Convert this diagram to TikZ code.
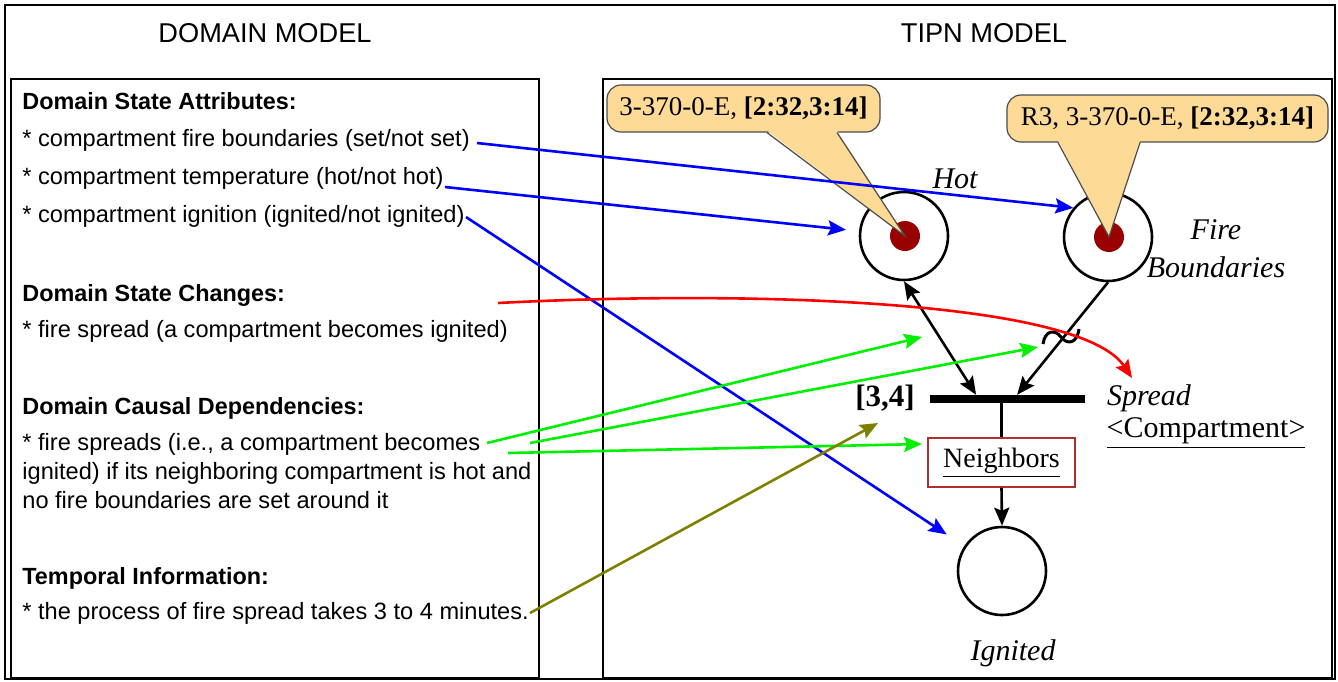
\documentclass[tikz,border=0pt]{standalone}
\usepackage{fontspec}
\setmainfont{Liberation Serif}
\newfontfamily\arialfont{Liberation Sans}
\usepackage{xcolor}
\usepackage{tikz}
\usetikzlibrary{arrows.meta}
\definecolor{notefill}{RGB}{253,218,150}
\definecolor{tokenred}{RGB}{153,0,0}
\definecolor{boxred}{RGB}{176,48,48}
\definecolor{olivearr}{RGB}{128,128,0}
\definecolor{greenarr}{RGB}{0,240,0}

\tikzset{
  >={Stealth[length=9pt,width=7.5pt,inset=1.5pt]},
  frame/.style={draw,line width=0.9pt},
  headtxt/.style={font=\arialfont\fontsize{13.6}{16}\selectfont},
  sectxt/.style={anchor=west,inner sep=0pt,text height=8.5pt,text depth=2.5pt,font=\arialfont\bfseries\fontsize{11.7}{14}\selectfont},
  itemtxt/.style={anchor=west,inner sep=0pt,text height=8.5pt,text depth=2.5pt,font=\arialfont\fontsize{11.8}{14}\selectfont},
  place/.style={circle,draw,line width=1.3pt,minimum size=44pt,inner sep=0pt},
  token/.style={circle,fill=tokenred,minimum size=15pt,inner sep=0pt},
  note/.style={draw=black!70,fill=notefill,line width=0.6pt,rounded corners=7pt,minimum height=23.5pt,inner sep=0pt,font=\fontsize{13.5}{16}\selectfont},
  notepen/.style={draw=black!70,line width=0.6pt},
  plabel/.style={font=\itshape\fontsize{15}{19}\selectfont},
  arc/.style={draw,line width=1.3pt},
  link/.style={line width=1.3pt,->},
}

\begin{document}
\begin{tikzpicture}[x=0.5pt,y=-0.5pt]
  \useasboundingbox (0,0) rectangle (1338,681);
  \draw[line width=1.2pt] (5,5) rectangle (1335,679);
  \draw[frame] (11,79) rectangle (539,678);
  \draw[frame] (603,79) rectangle (1332,678);
  \node[headtxt] (domain) at (265,33) {DOMAIN MODEL};
  \node[headtxt] (tipn) at (984,33) {TIPN MODEL};

  % domain model
  \node[sectxt] (attrs) at (22,103) {Domain State Attributes:};
  \node[itemtxt] (bound) at (22,140) {* compartment fire boundaries (set/not set)};
  \node[itemtxt] (temp) at (22,178) {* compartment temperature (hot/not hot)};
  \node[itemtxt] (ignit) at (22,216) {* compartment ignition (ignited/not ignited)};
  \node[sectxt] (changes) at (22,295) {Domain State Changes:};
  \node[itemtxt] (firespread) at (22,331) {* fire spread (a compartment becomes ignited)};
  \node[sectxt] (causal) at (22,408) {Domain Causal Dependencies:};
  \node[itemtxt] (cause1) at (22,444) {* fire spreads (i.e., a compartment becomes};
  \node[itemtxt] (cause2) at (22,473) {ignited) if its neighboring compartment is hot and};
  \node[itemtxt] (cause3) at (22,502) {no fire boundaries are set around it};
  \node[sectxt] (temporal) at (22,578) {Temporal Information:};
  \node[itemtxt] (minutes) at (22,613) {* the process of fire spread takes 3 to 4 minutes.};

  % TIPN model
  \node[place] (hot) at (904,236) {};
  \node[token] (hotdot) at (905,236) {};
  \node[place] (fire) at (1108,237) {};
  \node[token] (firedot) at (1109,237) {};
  \node[place] (ignited) at (1002,571) {};
  \node[fill,minimum width=77.5pt,minimum height=3.8pt,inner sep=0pt] (spread) at (1007,399) {};
  \node[draw=boxred,line width=0.8pt,minimum width=73.5pt,minimum height=24.5pt,font=\fontsize{14}{16}\selectfont] (nbr) at (1001.5,462.5) {\underline{Neighbors}};

  \node[plabel] (hotlbl) at (955,179) {Hot};
  \node[plabel,align=center] (firelbl) at (1216,249) {Fire\\Boundaries};
  \node[plabel] (ignitedlbl) at (1013,653) {Ignited};
  \node[plabel] (spreadlbl) at (1149,398) {Spread};
  \node[font=\fontsize{15}{19}\selectfont] (complbl) at (1206,433) {\underline{<Compartment>}};
  \node[font=\bfseries\fontsize{15.5}{19}\selectfont] (interval) at (885,398) {[3,4]};

  \path[arc]
    (hot.south) edge[<->] ([xshift=23.5pt]spread.north west)
    (fire.south) edge[->] ([xshift=44pt]spread.north west)
    (nbr.north |- spread.south) edge (nbr.north)
    (nbr.south) edge[->] (ignited.north);
  \draw[line width=1.5pt] (1043,344) .. controls (1045,330) and (1055,329) .. (1061,337)
    .. controls (1067,345) and (1077,344) .. (1079,329);

  \node[note,minimum width=136.5pt] (hotnote) at (743.5,108.5) {3-370-0-E, \textbf{[2:32,3:14]}};
  \fill[notefill] ([xshift=11.75pt,yshift=1pt]hotnote.south) -- (hotdot.center) -- ([xshift=46.75pt,yshift=1pt]hotnote.south) -- cycle;
  \draw[notepen] ([xshift=11.75pt]hotnote.south) -- (hotdot.center) -- ([xshift=46.75pt]hotnote.south);
  \node[note,minimum width=160.5pt] (firenote) at (1167.5,118.5) {R3, 3-370-0-E, \textbf{[2:32,3:14]}};
  \fill[notefill] ([xshift=-54.75pt,yshift=1pt]firenote.south) -- (firedot.center) -- ([xshift=-13.75pt,yshift=1pt]firenote.south) -- cycle;
  \draw[notepen] ([xshift=-54.75pt]firenote.south) -- (firedot.center) -- ([xshift=-13.75pt]firenote.south);

  % links between the two models
  \coordinate (boundend) at (477,143);
  \coordinate (tempend) at (445,187);
  \coordinate (ignitend) at (466,217);
  \coordinate (changeend) at (498,303);
  \coordinate (spreadtip) at (1132,378);
  \coordinate (causeA) at (487,443);
  \coordinate (causeB) at (530,443);
  \coordinate (causeC) at (508,453);
  \coordinate (hottip) at (922,337);
  \coordinate (firetip) at (1038,347);
  \coordinate (nbrtip) at (922,444);
  \coordinate (minend) at (530,613);
  \coordinate (intervaltip) at (878,423);

  \draw[link,blue] (boundend) -- (fire.140);
  \draw[link,blue,shorten >=6.5pt] (tempend) -- (hot);
  \draw[link,blue,shorten >=10.5pt] (ignitend) -- (ignited);
  \draw[link,red] (changeend) .. controls (750,290) and (1080,300) .. (spreadtip);
  \draw[link,greenarr] (causeA) -- (hottip);
  \draw[link,greenarr] (causeB) -- (firetip);
  \draw[link,greenarr] (causeC) -- (nbrtip);
  \draw[link,olivearr] (minend) -- (intervaltip);
\end{tikzpicture}
\end{document}
